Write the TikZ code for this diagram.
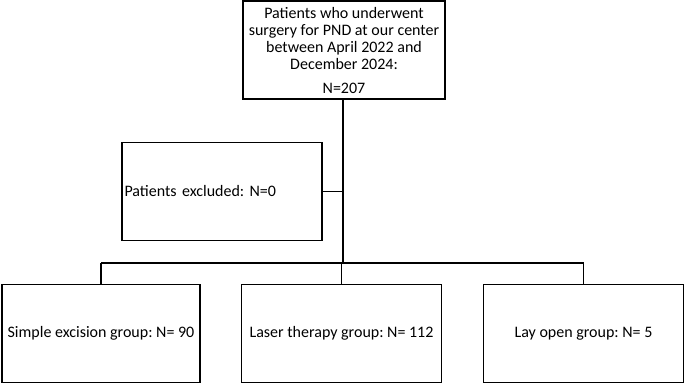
\documentclass[tikz,border=0pt]{standalone}
\usepackage{fontspec}
\setmainfont{Carlito}
\begin{document}
\frenchspacing
\begin{tikzpicture}[x=1pt,y=1pt,
        box/.style={draw,line width=1.3pt,minimum height=98pt,inner sep=2pt,font=\fontsize{16}{17}\selectfont},
        link/.style={line width=1.3pt}]
        \useasboundingbox (0,0) rectangle (685,384);
        \node[box,minimum width=202pt,align=center] (total) at (344,334)
            {Patients who underwent\\surgery for PND at our center\\between April 2022 and\\December 2024:\\[7pt]N=207};
        \node[box,minimum width=200pt,text width=195pt,align=left] (excl) at (222,192.5) {Patients excluded: N=0};
        \node[box,minimum width=198pt] (simple) at (101,50.5) {Simple excision group: N= 90};
        \node[box,minimum width=200pt] (laser) at (341.5,50.5) {Laser therapy group: N= 112};
        \node[box,minimum width=200pt] (layopen) at (583.5,50.5) {Lay open group: N= 5};
        \coordinate (split) at (343,121);
        \draw[link] (total.south -| split) -- (split);
        \draw[link] (excl.east) -- (excl.east -| split);
        \draw[link] (simple.north |- split) -- (layopen.north |- split);
        \draw[link] (simple.north |- split) -- (simple.north);
        \draw[link] (laser.north |- split) -- (laser.north);
        \draw[link] (layopen.north |- split) -- (layopen.north);
    \end{tikzpicture}
\end{document}
